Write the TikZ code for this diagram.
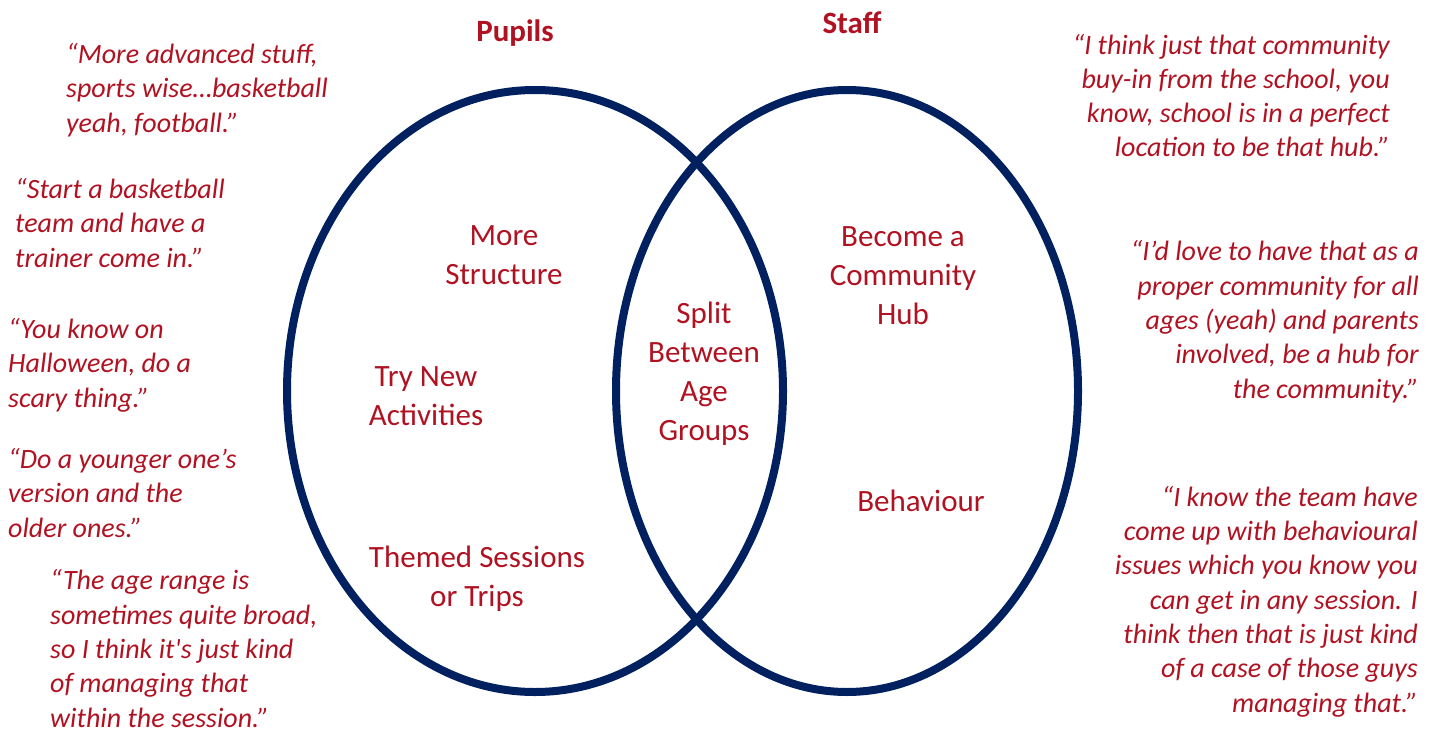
\documentclass[tikz,border=0pt]{standalone}
\usepackage{fontspec}
\setmainfont{Carlito}
\definecolor{navy}{RGB}{0,32,96}
\definecolor{myred}{RGB}{176,18,34}
\newcommand\quotefnt{\fontsize{28}{34.3}\selectfont\itshape}
\newcommand\labelfnt{\fontsize{31}{38.8}\selectfont}
\newcommand\headfnt{\fontsize{31}{38.8}\selectfont\bfseries}
\tikzset{
  quoteL/.style={font=\quotefnt, text=myred, inner sep=0pt, align=left, anchor=base west},
  quoteR/.style={font=\quotefnt, text=myred, inner sep=0pt, align=right, anchor=base east},
  lbl/.style={font=\labelfnt, text=myred, inner sep=0pt, align=center, anchor=base},
  head/.style={font=\headfnt, text=myred, inner sep=0pt, anchor=base},
  venn/.style={draw=navy, line width=8pt}
}
\begin{document}
\begin{tikzpicture}[x=1pt,y=-1pt]
\useasboundingbox (0,0) rectangle (1437,733);
% ellipses
\draw[venn] (535,391) ellipse [x radius=248pt, y radius=301pt];
\draw[venn] (847,391) ellipse [x radius=231pt, y radius=301pt];
% headers
\node[head] (pupils) at (515,42) {Pupils};
\node[head] (staff) at (852,34) {Staff};
% labels (anchor = baseline of last line)
\node[lbl] (structure) at (504,284) {More\\Structure};
\node[lbl] (activities) at (426,425) {Try New\\Activities};
\node[lbl] (themed) at (477,606) {Themed Sessions\\or Trips};
\node[lbl] (split) at (704,440) {Split\\Between\\Age\\Groups};
\node[lbl] (hub) at (903,324) {Become a\\Community\\Hub};
\node[lbl] (behaviour) at (921,511) {Behaviour};
% left quotes
\node[quoteL] (q1) at (66,132) {“More advanced stuff,\\sports wise…basketball\\yeah, football.”};
\node[quoteL] (q2) at (15,267) {“Start a basketball\\team and have a\\trainer come in.”};
\node[quoteL] (q3) at (8,407) {“You know on\\Halloween, do a\\scary thing.”};
\node[quoteL] (q4) at (8,537) {“Do a younger one’s\\version and the\\older ones.”};
\node[quoteL] (q5) at (50,727) {“The age range is\\sometimes quite broad,\\so I think it\textquotesingle s just kind\\of managing that\\within the session.”};
% right quotes
\node[quoteR] (q6) at (1390,157) {“I think just that community\\buy-in from the school, you\\know, school is in a perfect\\location to be that hub.”};
\node[quoteR] (q7) at (1419,398) {“I’d love to have that as a\\proper community for all\\ages (yeah) and parents\\involved, be a hub for\\the community.”};
\node[quoteR] (q8) at (1418,712) {“I know the team have\\come up with behavioural\\issues which you know you\\can get in any session. I\\think then that is just kind\\of a case of those guys\\managing that.”};
\end{tikzpicture}
\end{document}
